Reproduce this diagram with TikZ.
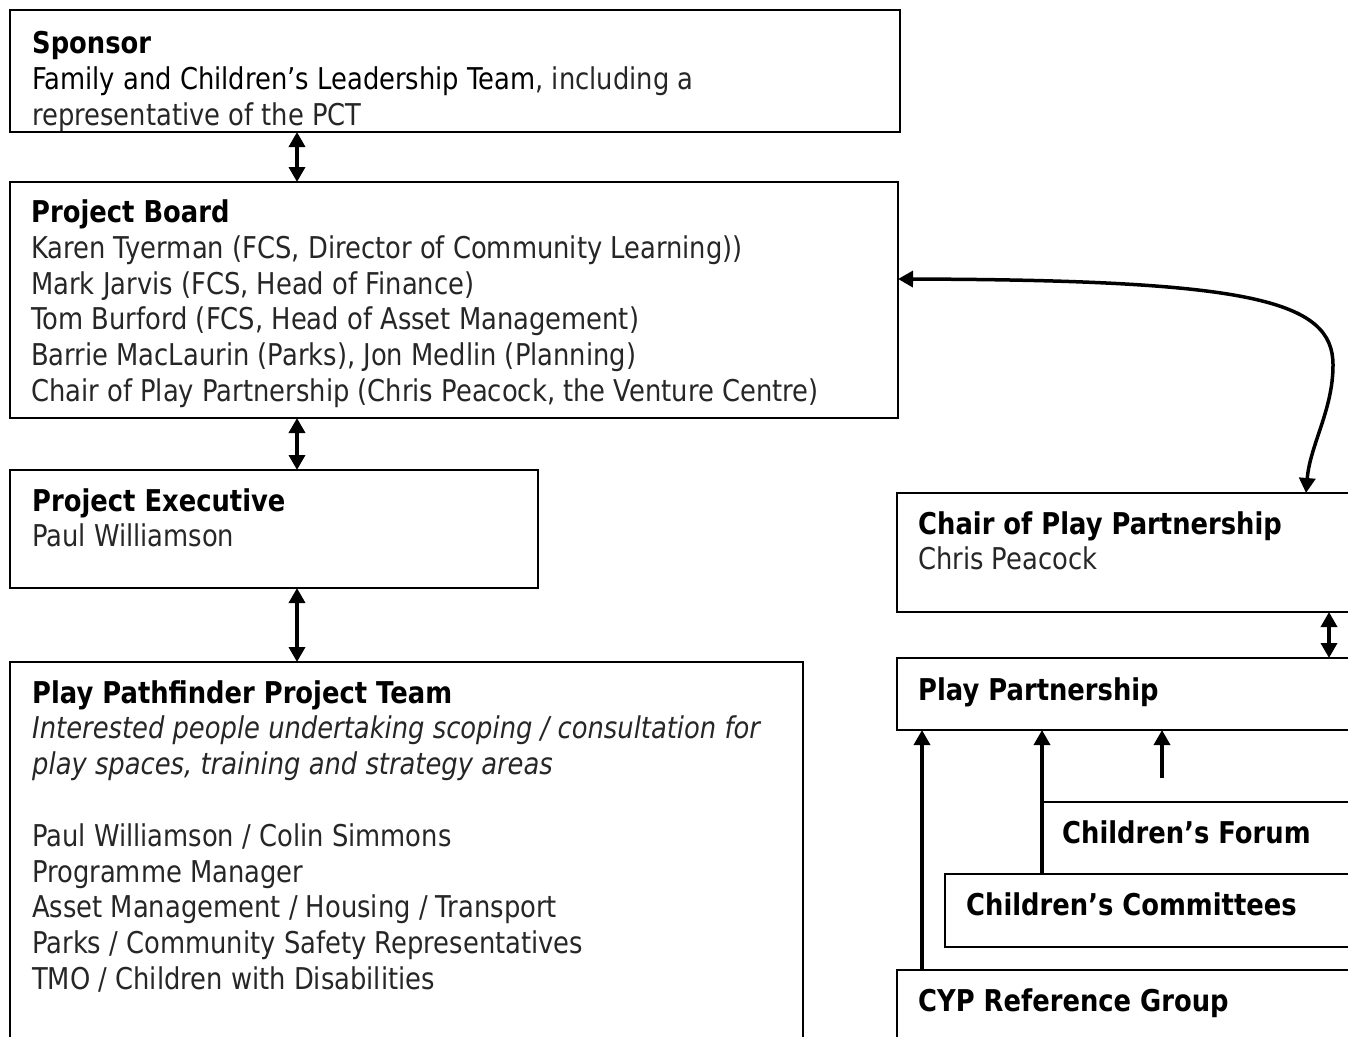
\documentclass[tikz,border=0pt]{standalone}
\usepackage{fontspec}
\setmainfont{DejaVu Sans}[FakeStretch=0.86]
\usetikzlibrary{positioning,arrows.meta}
\tikzset{
	box/.style={draw=black, line width=2pt, inner sep=0pt, outer sep=0pt, anchor=north west},
	boxtext/.style={anchor=north west, inner sep=0pt, align=left, text=black!85,
		font=\fontsize{30}{35.8}\selectfont, execute at begin node=\strut},
	link/.style={line width=3.5pt, {Triangle[width=16pt,length=15pt]}-{Triangle[width=16pt,length=15pt]}},
	uplink/.style={line width=3.5pt, -{Triangle[width=16pt,length=15pt]}}
}

\begin{document}
\begin{tikzpicture}[x=1pt, y=-1pt]
	\useasboundingbox (0,0) rectangle (1348,1036);
	\clip (0,0) rectangle (1348,1036);

	% left column
	\node[box, minimum width=890pt, minimum height=122pt] (sponsor) at (10,10) {};
	\begin{scope}
		\clip (sponsor.north west) rectangle (sponsor.south east);
		\node[boxtext] (sponsor-txt) at ([xshift=22pt,yshift=-21.5pt]sponsor.north west)
			{\textcolor{black}{\textbf{Sponsor}}\\
			\textcolor{black}{Family and Children’s Leadership Team}, including a\\
			representative of the PCT};
	\end{scope}

	\node[box, minimum width=888pt, minimum height=236pt] (board) at (10,182) {};
	\node[boxtext] (board-txt) at ([xshift=21pt,yshift=-17.5pt]board.north west)
		{\textcolor{black}{\textbf{Project Board}}\\
		Karen Tyerman (FCS, Director of Community Learning))\\
		Mark Jarvis (FCS, Head of Finance)\\
		Tom Burford (FCS, Head of Asset Management)\\
		Barrie MacLaurin (Parks), Jon Medlin (Planning)\\
		Chair of Play Partnership (Chris Peacock, the Venture Centre)};

	\node[box, minimum width=528pt, minimum height=118pt] (exec) at (10,470) {};
	\node[boxtext] (exec-txt) at ([xshift=22pt,yshift=-18pt]exec.north west)
		{\textcolor{black}{\textbf{Project Executive}}\\
		Paul Williamson};

	\node[box, minimum width=793pt, minimum height=420pt] (team) at (10,662) {};
	\node[boxtext] (team-txt) at ([xshift=22pt,yshift=-18pt]team.north west)
		{\textcolor{black}{\textbf{Play Pathfinder Project Team}}\\
		\textit{Interested people undertaking scoping / consultation for}\\
		\textit{play spaces, training and strategy areas}\\[35.8pt]
		Paul Williamson / Colin Simmons\\
		Programme Manager\\
		Asset Management / Housing / Transport\\
		Parks / Community Safety Representatives\\
		TMO / Children with Disabilities};

	% right column
	\node[box, minimum width=500pt, minimum height=119pt] (chair) at (897,493) {};
	\node[boxtext] (chair-txt) at ([xshift=21pt,yshift=-18pt]chair.north west)
		{\textcolor{black}{\textbf{Chair of Play Partnership}}\\
		Chris Peacock};

	\node[box, minimum width=500pt, minimum height=72pt] (partnership) at (897,658) {};
	\node[boxtext] (partnership-txt) at ([xshift=21pt,yshift=-17pt]partnership.north west)
		{\textcolor{black}{\textbf{Play Partnership}}};

	\node[box, minimum width=400pt, minimum height=72pt] (forum) at (1042,802) {};
	\node[boxtext] (forum-txt) at ([xshift=20pt,yshift=-16pt]forum.north west)
		{\textcolor{black}{\textbf{Children’s Forum}}};

	\node[box, minimum width=450pt, minimum height=73pt] (committees) at (945,874) {};
	\node[boxtext] (committees-txt) at ([xshift=21pt,yshift=-16pt]committees.north west)
		{\textcolor{black}{\textbf{Children’s Committees}}};

	\node[box, minimum width=500pt, minimum height=120pt] (cyp) at (897,970) {};
	\node[boxtext] (cyp-txt) at ([xshift=21pt,yshift=-16pt]cyp.north west)
		{\textcolor{black}{\textbf{CYP Reference Group}}};

	% connectors
	\draw[link] ([xshift=287pt]sponsor.south west) -- ([xshift=287pt]board.north west);
	\draw[link] ([xshift=287pt]board.south west) -- ([xshift=287pt]exec.north west);
	\draw[link] ([xshift=287pt]exec.south west) -- ([xshift=287pt]team.north west);
	\draw[link] ([yshift=21pt]board.east) .. controls (1250,280) and (1333,300) .. (1333,365)
		.. controls (1333,410) and (1310,445) .. ([xshift=409pt]chair.north west);
	\draw[link] ([xshift=432pt]chair.south west) -- ([xshift=432pt]partnership.north west);

	\coordinate (forum-up) at (1162,778);
	\draw[uplink] ([xshift=25pt]cyp.north west) -- ([xshift=25pt]partnership.south west);
	\draw[uplink] ([xshift=97pt]committees.north west) -- ([xshift=145pt]partnership.south west);
	\draw[uplink] (forum-up) -- ([xshift=265pt]partnership.south west);
\end{tikzpicture}
\end{document}
